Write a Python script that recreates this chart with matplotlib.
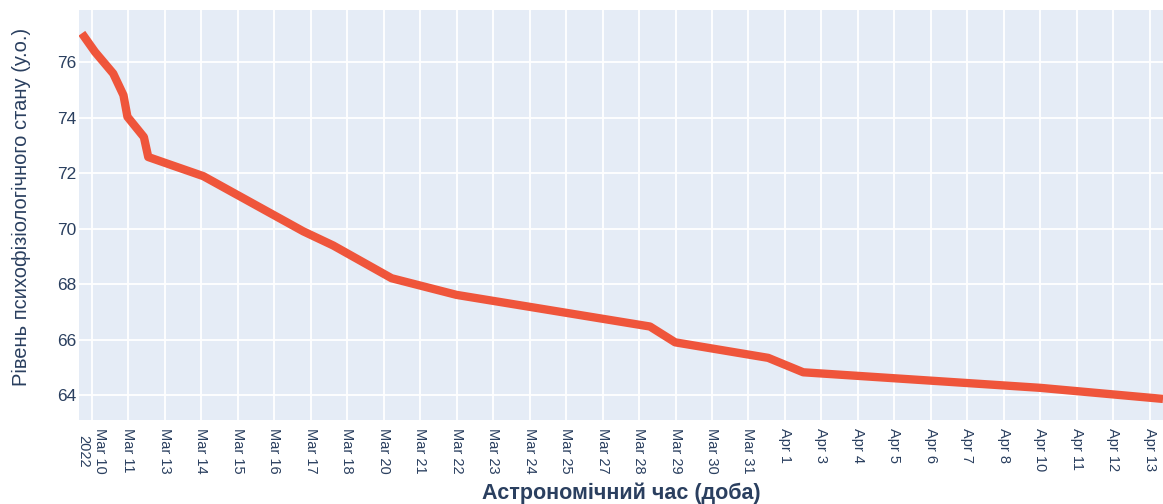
import matplotlib.pyplot as plt

plt.rcParams['font.family'] = ['Liberation Sans', 'DejaVu Sans']

# x tick labels (one per grid line, position = index)
tick_labels = ['Mar 10\n2022', 'Mar 11', 'Mar 13', 'Mar 14', 'Mar 15', 'Mar 16', 'Mar 17',
               'Mar 18', 'Mar 20', 'Mar 21', 'Mar 22', 'Mar 23', 'Mar 24', 'Mar 25',
               'Mar 27', 'Mar 28', 'Mar 29', 'Mar 30', 'Mar 31', 'Apr 1', 'Apr 3',
               'Apr 4', 'Apr 5', 'Apr 6', 'Apr 7', 'Apr 8', 'Apr 10', 'Apr 11',
               'Apr 12', 'Apr 13']

# line data, x measured in tick positions
x_pos = [-0.27, 0.09, 0.59, 0.87, 0.98, 1.43, 1.55, 3.06, 5.80, 6.62, 8.22,
         10.00, 15.30, 15.99, 18.54, 19.50, 25.99, 29.36]
level = [77.05, 76.38, 75.60, 74.82, 74.04, 73.31, 72.59, 71.90, 69.91, 69.40, 68.22,
         67.62, 66.48, 65.91, 65.35, 64.83, 64.27, 63.87]

y_ticks = [64, 66, 68, 70, 72, 74, 76]

text_col = '#2a3f5f'

fig = plt.figure(figsize=(11.63, 5.04), dpi=100)
ax = fig.add_axes([79 / 1163, 84 / 504, 1084 / 1163, 410 / 504])
ax.set_facecolor('#E5ECF6')

ax.plot(x_pos, level, color='#EF553B', lw=6, solid_joinstyle='round', solid_capstyle='butt')

ax.set_xlim(-0.348, 29.36)
ax.set_ylim(63.11, 77.89)

ax.set_xticks(range(len(tick_labels)))
ax.set_xticklabels(tick_labels, rotation=-90, fontsize=10.5, color=text_col)
ax.set_yticks(y_ticks)
ax.set_yticklabels([str(v) for v in y_ticks], fontsize=12.5, color=text_col)
ax.tick_params(axis='x', length=0, pad=6)
ax.tick_params(axis='y', length=0, pad=2)

ax.grid(True, color='white', lw=1.3)
ax.set_axisbelow(True)
for s in ax.spines.values():
    s.set_visible(False)

ax.set_xlabel('Астрономічний час (доба)', fontsize=15.5, fontweight='bold', color=text_col)
ax.xaxis.label.set_va('center')
ax.xaxis.set_label_coords(0.5, -0.178)
ax.set_ylabel('Рівень психофізіологічного стану (у.о.)', fontsize=14.5, color=text_col)
ax.yaxis.label.set_va('center')
ax.yaxis.set_label_coords(-0.0535, 0.52)

plt.savefig('out.png', dpi=100)
